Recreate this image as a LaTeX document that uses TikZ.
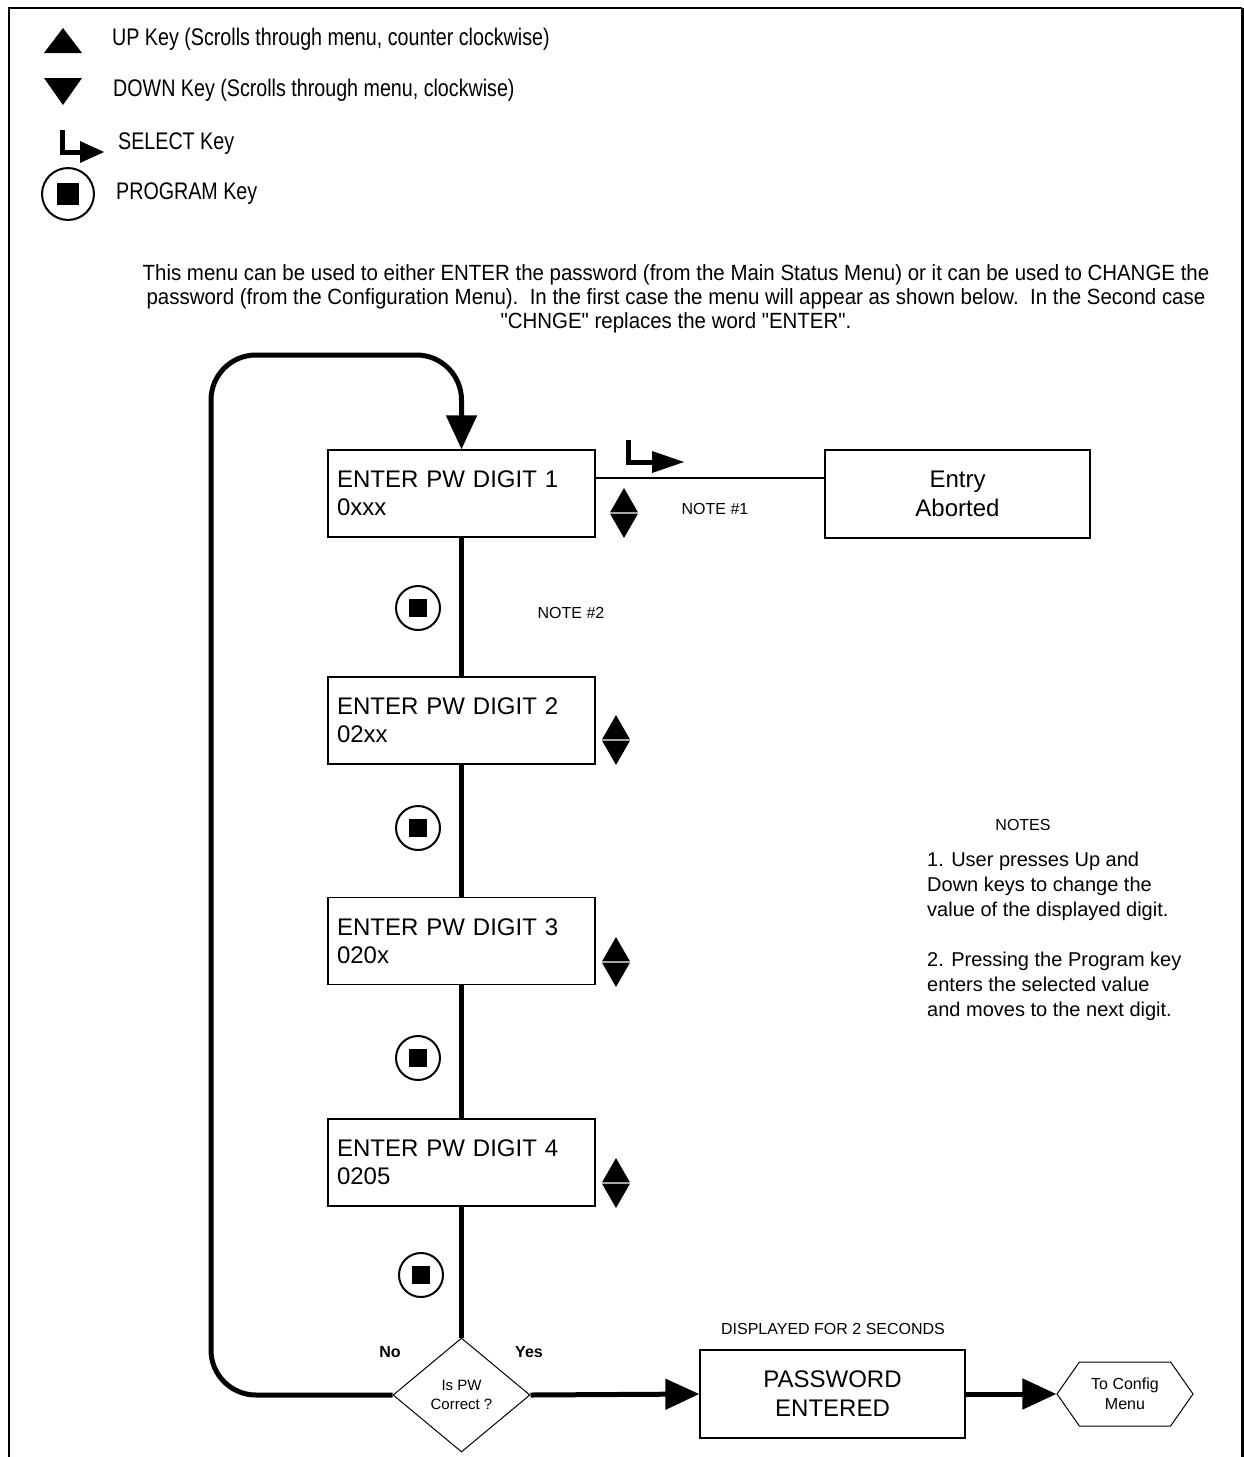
\documentclass[tikz,border=0pt]{standalone}
\usepackage{fontspec}
\setmainfont{Liberation Sans}
\newfontfamily\narrowfont[FakeStretch=0.82]{Liberation Sans}
\newfontfamily\introfont[FakeStretch=0.93]{Liberation Sans}
\usetikzlibrary{arrows.meta,shapes.geometric,shapes.symbols}

\tikzset{
  menubox/.style={draw, line width=1.3pt, minimum width=267pt, minimum height=87pt,
    text width=249pt, align=left, inner xsep=9pt, font=\fontsize{24}{28}\selectfont},
  msgbox/.style={draw, line width=1.3pt, minimum width=265pt, minimum height=88pt,
    align=center, font=\fontsize{24}{29}\selectfont},
  flow/.style={line width=5pt},
  flowarrow/.style={line width=5pt, -{Triangle[length=34pt,width=30pt]}},
  smalltext/.style={inner sep=0pt, font=\fontsize{16}{20}\selectfont},
  legendtext/.style={anchor=west, inner sep=0pt, font=\narrowfont\fontsize{24}{28}\selectfont},
  progkey/.pic={
    \draw[line width=2pt] (0,0) circle (22pt);
    \fill (-9,-9) rectangle (9,9);
  },
  updownkey/.pic={
    \fill (-14,-0.6) -- (14,-0.6) -- (0,-25) -- cycle;
    \fill (-14,0.6) -- (14,0.6) -- (0,25) -- cycle;
  },
  selkey/.pic={
    \draw[line width=5pt] (0,-22) -- (0,0) -- (25,0);
    \fill (24,-11) -- (24,11) -- (56,0) -- cycle;
  }
}

\begin{document}
\begin{tikzpicture}[x=1pt,y=-1pt]
    \useasboundingbox (0,0) rectangle (1244,1457);
    % page frame
    \draw[line width=2pt] (9,1457) -- (9,8) -- (1242,8);
    \draw[line width=3pt] (1242,8) -- (1242,1457);

    % legend
    \fill (44,53) -- (82,53) -- (63,28) -- cycle;
    \node[legendtext] (upkey) at (112,39) {UP Key (Scrolls through menu, counter clockwise)};
    \fill (44,78) -- (82,78) -- (63,105) -- cycle;
    \node[legendtext] (downkey) at (113,90) {DOWN Key (Scrolls through menu, clockwise)};
    \pic[xscale=0.75] at (62,152) {selkey};
    \node[legendtext] (selectkey) at (118,144) {SELECT Key};
    \pic[scale=1.18] at (68,194) {progkey};
    \node[legendtext] (programkey) at (116,194) {PROGRAM Key};

    \node[align=center, inner sep=0pt, font=\introfont\fontsize{22}{24}\selectfont] (intro) at (676,299)
        {This menu can be used to either ENTER the password (from the Main Status Menu) or it can be used to CHANGE the\\
         password (from the Configuration Menu).\ \ In the first case the menu will appear as shown below.\ \ In the Second case\\
         "CHNGE" replaces the word "ENTER".};

    % menu
    \node[menubox] (digit1) at (461.5,493.5) {ENTER PW DIGIT 1\\0xxx};
    \node[menubox] (digit2) at (461.5,720.5) {ENTER PW DIGIT 2\\02xx};
    \node[menubox] (digit3) at (461.5,941) {ENTER PW DIGIT 3\\020x};
    \node[menubox] (digit4) at (461.5,1162.5) {ENTER PW DIGIT 4\\0205};
    \node[msgbox] (abort) at (957.5,494) {Entry\\Aborted};
    \node[diamond, draw, line width=1pt, minimum width=137pt, minimum height=114pt, inner sep=0pt,
          align=center, font=\fontsize{15}{19}\selectfont] (isok) at (461.5,1395) {Is PW\\Correct ?};
    \node[msgbox] (pwdone) at (832.5,1394) {PASSWORD\\ENTERED};
    \node[signal, signal to=west and east, signal pointer angle=110, draw, line width=1pt,
          minimum width=136pt, minimum height=64pt, inner sep=0pt, align=center,
          font=\fontsize{16}{20}\selectfont] (toconfig) at (1125,1394) {To Config\\Menu};
    \coordinate (looptop) at (211,355);

    % keys
    \pic at (418,608) {progkey};
    \pic at (418,828) {progkey};
    \pic at (418,1058) {progkey};
    \pic at (421,1275) {progkey};
    \pic at (624,513) {updownkey};
    \pic at (616,740) {updownkey};
    \pic at (616,962) {updownkey};
    \pic at (616,1183) {updownkey};
    \pic at (628,462) {selkey};

    % labels
    \node[smalltext] (note1) at (715,509) {NOTE \#1};
    \node[smalltext] (note2) at (571,613) {NOTE \#2};
    \node[smalltext] (noteshead) at (1023,825) {NOTES};
    \node[anchor=north west, align=left, inner sep=0pt, font=\fontsize{20}{25}\selectfont] (notes) at (927,852)
        {1. User presses Up and\\Down keys to change the\\value of the displayed digit.\\[25pt]
         2. Pressing the Program key\\enters the selected value\\and moves to the next digit.};
    \node[smalltext] (shown) at (833,1329) {DISPLAYED FOR 2 SECONDS};
    \node[smalltext, font=\bfseries\fontsize{16}{20}\selectfont] (nolabel) at (390,1352) {No};
    \node[smalltext, font=\bfseries\fontsize{16}{20}\selectfont] (yeslabel) at (529,1352) {Yes};

    % connectors
    \draw[flow] (digit1.south) -- (digit2.north);
    \draw[flow] (digit2.south) -- (digit3.north);
    \draw[flow] (digit3.south) -- (digit4.north);
    \draw[flow] (digit4.south) -- (isok.north);
    \draw[line width=1.3pt] ([yshift=15.5pt]digit1.east) -- ([yshift=16pt]abort.west);
    \draw[flowarrow, rounded corners=45pt] (isok.west) -| (looptop) -| (digit1.north);
    \draw[flowarrow] (isok.east) -- (pwdone.west);
    \draw[flowarrow] (pwdone.east) -- (toconfig.west);
\end{tikzpicture}
\end{document}
